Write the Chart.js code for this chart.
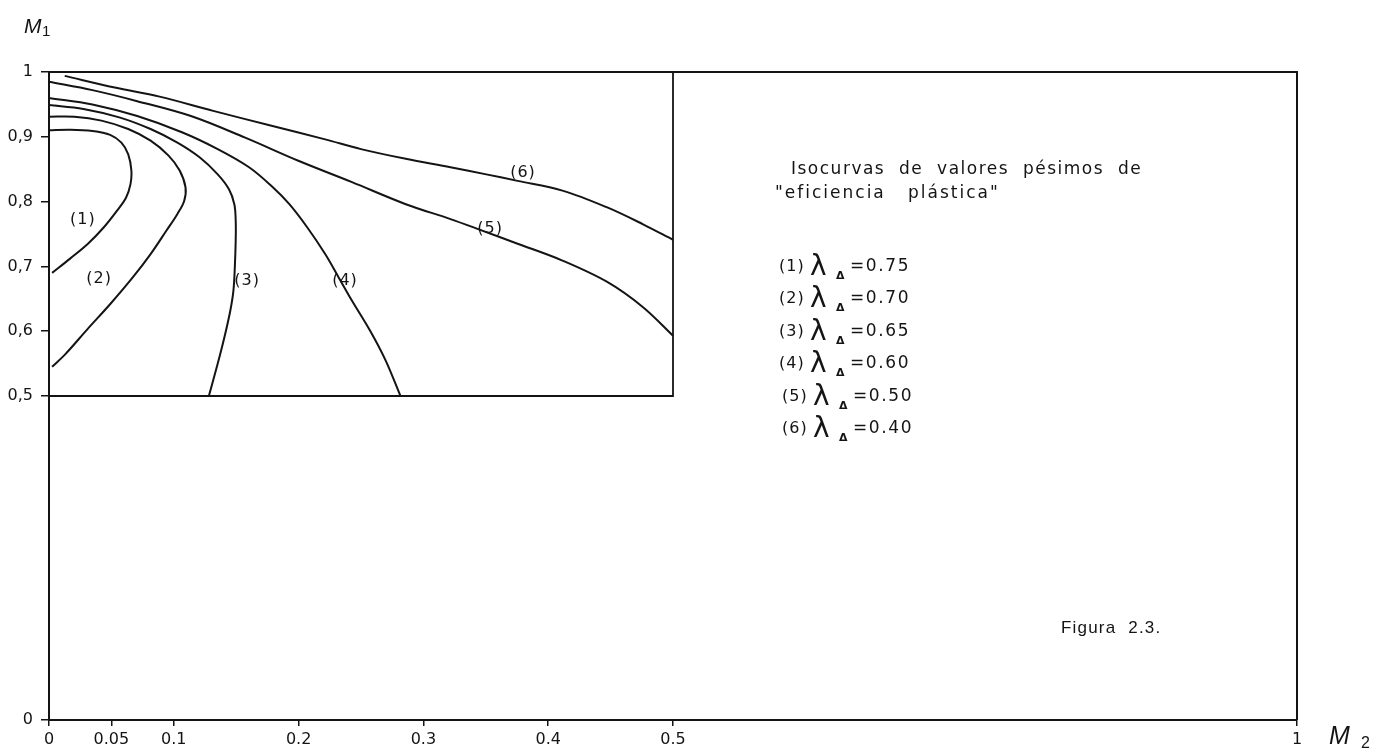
<!DOCTYPE html>
<html>
<head>
<meta charset="utf-8">
<script src="https://cdn.jsdelivr.net/npm/chart.js@4.4.1/dist/chart.umd.min.js"></script>
<style>
  html, body { margin: 0; padding: 0; background: #ffffff; }
  #wrap { width: 1381px; height: 752px; position: relative; }
</style>
</head>
<body>
<div id="wrap"><canvas id="chart" width="1381" height="752"></canvas></div>
<script>
// Isocurves of worst-case "plastic efficiency" in the (M2, M1) plane
const curve1M2 = [0, 0.017, 0.035, 0.049, 0.058, 0.0635, 0.066, 0.0653, 0.0617, 0.0545, 0.0438, 0.0312, 0.0169, 0.0025];
const curve1M1 = [0.910, 0.911, 0.909, 0.903, 0.891, 0.873, 0.848, 0.827, 0.806, 0.786, 0.760, 0.735, 0.712, 0.690];

const curve2M2 = [0, 0.0204, 0.042, 0.0635, 0.0814, 0.0958, 0.1047, 0.1094, 0.1083, 0.1029, 0.094, 0.0814, 0.0671, 0.0491, 0.0312, 0.0133, 0.0025];
const curve2M1 = [0.931, 0.931, 0.925, 0.912, 0.894, 0.871, 0.848, 0.822, 0.801, 0.781, 0.755, 0.719, 0.683, 0.642, 0.604, 0.565, 0.545];

const curve3M2 = [0, 0.0276, 0.0563, 0.0814, 0.1029, 0.1209, 0.1352, 0.1442, 0.1485, 0.1496, 0.1496, 0.1489, 0.1478, 0.1453, 0.1406, 0.1352, 0.1281];
const curve3M1 = [0.949, 0.943, 0.930, 0.912, 0.891, 0.868, 0.842, 0.819, 0.796, 0.771, 0.740, 0.699, 0.663, 0.632, 0.591, 0.550, 0.500];

const curve4M2 = [0, 0.0348, 0.0707, 0.1065, 0.1352, 0.1603, 0.1783, 0.1926, 0.207, 0.2213, 0.2321, 0.2428, 0.2572, 0.2697, 0.2816];
const curve4M1 = [0.960, 0.950, 0.932, 0.907, 0.881, 0.853, 0.824, 0.796, 0.760, 0.719, 0.683, 0.647, 0.601, 0.555, 0.500];

const curve5M2 = [0, 0.0348, 0.0707, 0.1137, 0.1567, 0.1998, 0.2428, 0.2859, 0.3217, 0.3433, 0.3755, 0.4114, 0.4473, 0.476, 0.5];
const curve5M1 = [0.985, 0.972, 0.955, 0.932, 0.899, 0.863, 0.830, 0.796, 0.773, 0.758, 0.735, 0.709, 0.676, 0.637, 0.593];

const curve6M2 = [0.0126, 0.0527, 0.0886, 0.1316, 0.1783, 0.2213, 0.25, 0.2859, 0.3217, 0.3504, 0.3755, 0.4114, 0.4473, 0.476, 0.5];
const curve6M1 = [0.994, 0.976, 0.962, 0.940, 0.917, 0.896, 0.881, 0.866, 0.853, 0.842, 0.832, 0.817, 0.791, 0.765, 0.741];

// enlarged sub-region 0 <= M2 <= 0.5, 0.5 <= M1 <= 1
const detailFrameM2 = [0, 0.5, 0.5];
const detailFrameM1 = [0.5, 0.5, 1];

// axis ticks
const xTickValues = [0, 0.05, 0.1, 0.2, 0.3, 0.4, 0.5, 1];
const xTickLabels = ['0', '0.05', '0.1', '0.2', '0.3', '0.4', '0.5', '1'];
const yTickValues = [0, 0.5, 0.6, 0.7, 0.8, 0.9, 1];
const yTickLabels = ['0', '0,5', '0,6', '0,7', '0,8', '0,9', '1'];

// curve identifiers and their lambda values
const curveTags = ['(1)', '(2)', '(3)', '(4)', '(5)', '(6)'];
const lambdaValues = ['0.75', '0.70', '0.65', '0.60', '0.50', '0.40'];

const INK = '#141414';

function toPoints(xs, ys) {
  return xs.map((v, i) => ({ x: v, y: ys[i] }));
}

const curveSeries = [
  [curve1M2, curve1M1], [curve2M2, curve2M1], [curve3M2, curve3M1],
  [curve4M2, curve4M1], [curve5M2, curve5M1], [curve6M2, curve6M1]
];

const datasets = curveSeries.map((s, i) => ({
  label: curveTags[i],
  data: toPoints(s[0], s[1]),
  showLine: true,
  borderColor: INK,
  borderWidth: 2,
  pointRadius: 0,
  tension: 0.35,
  fill: false
}));
datasets.push({
  label: 'detalle',
  data: toPoints(detailFrameM2, detailFrameM1),
  showLine: true,
  borderColor: INK,
  borderWidth: 1.8,
  pointRadius: 0,
  tension: 0,
  fill: false
});

// label anchors in data units (M2, M1)
const tagAnchors = [[0.0272, 0.772], [0.0401, 0.681], [0.1587, 0.677], [0.2372, 0.677], [0.3534, 0.758], [0.3798, 0.844]];

function spacedText(ctx, text, x, y, spacing) {
  ctx.letterSpacing = spacing + 'px';
  ctx.fillText(text, x, y);
  ctx.letterSpacing = '0px';
}

const annotations = {
  id: 'annotations',
  afterDraw(chart) {
    const { ctx, chartArea: a, scales: { x, y } } = chart;
    ctx.save();
    // top and right sides of the frame
    ctx.strokeStyle = INK;
    ctx.lineWidth = 2;
    ctx.beginPath();
    ctx.moveTo(a.left, a.top);
    ctx.lineTo(a.right, a.top);
    ctx.lineTo(a.right, a.bottom);
    ctx.stroke();

    ctx.fillStyle = INK;
    // curve tags
    ctx.font = '16px "DejaVu Sans"';
    ctx.textAlign = 'center';
    ctx.textBaseline = 'middle';
    tagAnchors.forEach((p, i) => {
      spacedText(ctx, curveTags[i], x.getPixelForValue(p[0]), y.getPixelForValue(p[1]), 1);
    });

    // axis names
    ctx.textAlign = 'left';
    ctx.textBaseline = 'alphabetic';
    ctx.font = 'italic 21px "Liberation Sans"';
    ctx.fillText('M', 24, 33);
    ctx.font = '15px "Liberation Sans"';
    ctx.fillText('1', 42, 36);
    ctx.font = 'italic 25px "Liberation Sans"';
    ctx.fillText('M', 1329, 744);
    ctx.font = '16px "Liberation Sans"';
    ctx.fillText('2', 1361, 748);

    // caption block
    ctx.font = '17px "DejaVu Sans"';
    ctx.textBaseline = 'middle';
    spacedText(ctx, 'Isocurvas  de  valores  pésimos  de', 791, 170, 1.5);
    spacedText(ctx, '"eficiencia   plástica"', 775, 194, 2);

    const rowY = [267, 299, 332, 364, 397, 429];
    rowY.forEach((ry, i) => {
      const x0 = i >= 4 ? 782 : 779;
      ctx.font = '16px "DejaVu Sans"';
      ctx.textBaseline = 'middle';
      spacedText(ctx, curveTags[i], x0, ry, 1);
      ctx.font = '28px "DejaVu Sans"';
      ctx.textBaseline = 'alphabetic';
      ctx.fillText('λ', x0 + 31, ry + 8);
      ctx.font = 'bold 11px "DejaVu Sans"';
      ctx.fillText('Δ', x0 + 57, ry + 12);
      ctx.font = '17px "DejaVu Sans"';
      ctx.textBaseline = 'middle';
      spacedText(ctx, '=' + lambdaValues[i], x0 + 71, ry, 1.6);
    });

    ctx.font = '17px "Liberation Sans"';
    ctx.textBaseline = 'middle';
    spacedText(ctx, 'Figura  2.3.', 1061, 628, 1.2);
    ctx.restore();
  }
};

const tickFont = { family: '"DejaVu Sans"', size: 16 };

new Chart(document.getElementById('chart'), {
  type: 'scatter',
  data: { datasets },
  options: {
    responsive: false,
    animation: false,
    layout: { padding: { left: 0, top: 72, right: 84, bottom: 0 } },
    plugins: { legend: { display: false }, tooltip: { enabled: false } },
    scales: {
      x: {
        type: 'linear', min: 0, max: 1,
        afterBuildTicks: s => { s.ticks = xTickValues.map(v => ({ value: v })); },
        afterFit: s => { s.height = 32; },
        ticks: {
          autoSkip: false, maxRotation: 0, padding: 4, color: INK, font: tickFont,
          callback: v => xTickLabels[xTickValues.indexOf(v)]
        },
        grid: { drawOnChartArea: false, drawTicks: true, tickLength: 6, color: INK, lineWidth: 1.5 },
        border: { color: INK, width: 2 }
      },
      y: {
        type: 'linear', min: 0, max: 1,
        afterBuildTicks: s => { s.ticks = yTickValues.map(v => ({ value: v })); },
        afterFit: s => { s.width = 49; },
        ticks: {
          autoSkip: false, padding: 8, color: INK, font: tickFont,
          callback: v => yTickLabels[yTickValues.indexOf(v)]
        },
        grid: { drawOnChartArea: false, drawTicks: true, tickLength: 8, color: INK, lineWidth: 1.5 },
        border: { color: INK, width: 2 }
      }
    }
  },
  plugins: [annotations]
});
</script>
</body>
</html>
